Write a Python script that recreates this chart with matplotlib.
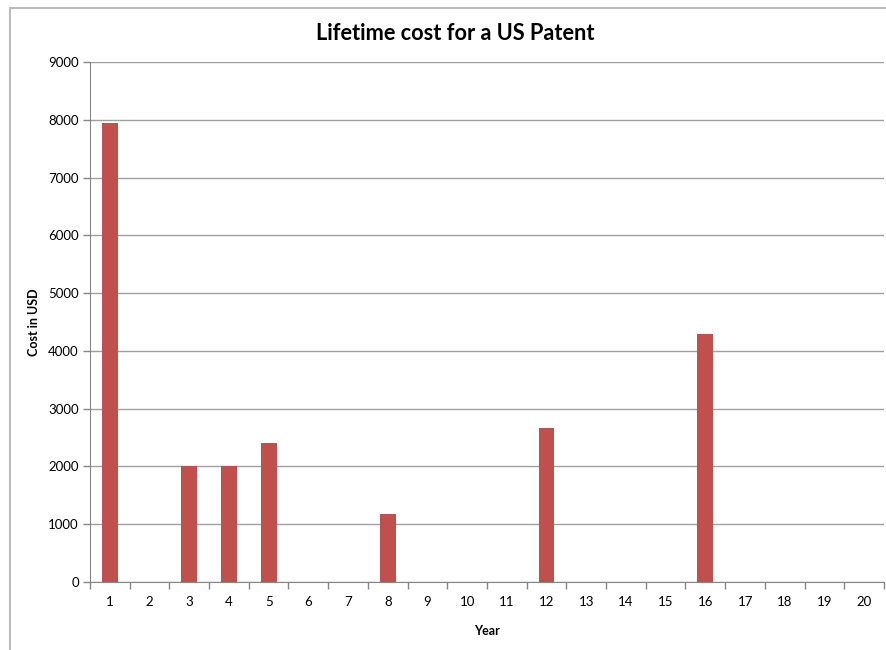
import matplotlib.pyplot as plt
from matplotlib.patches import Rectangle
import numpy as np

plt.rcParams['font.family'] = ['Lato', 'DejaVu Sans']

# yearly costs over the life of the patent
years = list(range(1, 21))
costs = [7950, 0, 2000, 2000, 2400, 0, 0, 1170, 0, 0,
         0, 2670, 0, 0, 0, 4300, 0, 0, 0, 0]

bar_color = '#c0504d'
grid_color = '#a0a0a0'

fig = plt.figure(figsize=(8.87, 6.5), dpi=100)
ax = fig.add_axes([90/887, 1-582/650, 794/887, 520/650])

# outer chart frame
fig.patches.append(Rectangle((10/887, -0.1), 1.0, (650-8)/650 + 0.1,
                             transform=fig.transFigure, fill=False,
                             edgecolor='#bcbcbc', linewidth=1.5))

ax.bar(years, costs, width=0.4, color=bar_color, zorder=3)

ax.set_xlim(0.5, 20.5)
ax.set_ylim(0, 9000)
ax.set_yticks(np.arange(0, 9001, 1000))
ax.yaxis.grid(True, color=grid_color, linewidth=1)
ax.set_axisbelow(True)

ax.set_xticks(years)
ax.set_xticks(np.arange(0.5, 21, 1), minor=True)
ax.tick_params(axis='x', which='major', length=0, pad=10, labelsize=9.5)
ax.tick_params(axis='x', which='minor', length=5, color='#868686', width=1)
ax.tick_params(axis='y', length=5, color='#868686', width=1, labelsize=9.5, pad=3)

for s in ['top', 'right']:
    ax.spines[s].set_visible(False)
for s in ['left', 'bottom']:
    ax.spines[s].set_color('#868686')

ax.set_xlabel('Year', fontsize=9, fontweight='bold', labelpad=12)
ax.set_ylabel('Cost in USD', fontsize=9, fontweight='bold', labelpad=6)
fig.text(455/887, 1-33/650, 'Lifetime cost for a US Patent', ha='center', va='center',
         fontsize=15.7, fontweight='bold')

fig.savefig('out.png', dpi=100)
